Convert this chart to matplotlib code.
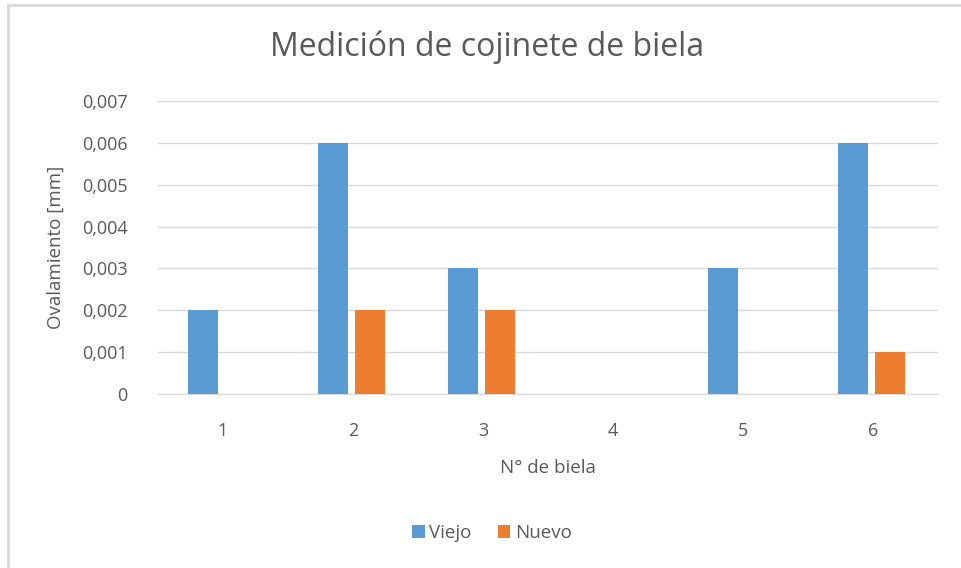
import matplotlib
matplotlib.use("Agg")
import matplotlib.pyplot as plt
import numpy as np
from matplotlib.lines import Line2D

categories = ["1", "2", "3", "4", "5", "6"]
viejo = [0.002, 0.006, 0.003, 0.0, 0.003, 0.006]
nuevo = [0.0, 0.002, 0.002, 0.0, 0.0, 0.001]
yticks = [0, 0.001, 0.002, 0.003, 0.004, 0.005, 0.006, 0.007]
ytick_labels = ["0", "0,001", "0,002", "0,003", "0,004", "0,005", "0,006", "0,007"]

plt.rcParams['font.family'] = ['Open Sans', 'DejaVu Sans']
txt = "#595959"
c_viejo = "#5B9BD5"
c_nuevo = "#ED7D31"

fig = plt.figure(figsize=(9.61, 5.68), dpi=100)
ax = fig.add_axes([158/961, 1-394/568, 780/961, 293/568])

x = np.arange(len(categories))
w = 0.23
ax.bar(x - 0.155, viejo, width=w, color=c_viejo, label="Viejo", zorder=3)
ax.bar(x + 0.13, nuevo, width=w, color=c_nuevo, label="Nuevo", zorder=3)

ax.set_xlim(-0.5, len(categories) - 0.5)
ax.set_ylim(0, 0.007)
ax.set_yticks(yticks)
ax.set_yticklabels(ytick_labels)
ax.set_xticks(x)
ax.set_xticklabels(categories)
ax.tick_params(axis='both', length=0, colors=txt, labelsize=13)
ax.tick_params(axis='y', pad=22)
ax.tick_params(axis='x', pad=20)
ax.grid(axis='y', color="#d9d9d9", linewidth=1, zorder=0)
for s in ["top", "right", "left"]:
    ax.spines[s].set_visible(False)
ax.spines["bottom"].set_color("#d9d9d9")

ax.set_xlabel("N° de biela", color=txt, fontsize=13.5, labelpad=14)
ax.set_ylabel("Ovalamiento [mm]", color=txt, fontsize=13.5, labelpad=12)
fig.text(487/961, 1-47/568, "Medición de cojinete de biela", ha="center", va="center",
         color=txt, fontsize=23)

leg = fig.legend(loc="center", bbox_to_anchor=(492/961, 1-533/568), ncol=2, frameon=False,
                 fontsize=13.5, handlelength=0.65, handleheight=0.65, handletextpad=0.25,
                 columnspacing=1.4, labelcolor=txt)

# chart frame
fig.add_artist(Line2D([8/961, 8/961], [0, 1-5/568], transform=fig.transFigure, color="#d9d9d9", lw=2))
fig.add_artist(Line2D([8/961, 1], [1-5/568, 1-5/568], transform=fig.transFigure, color="#d9d9d9", lw=2))

fig.savefig("out.png", dpi=100)
